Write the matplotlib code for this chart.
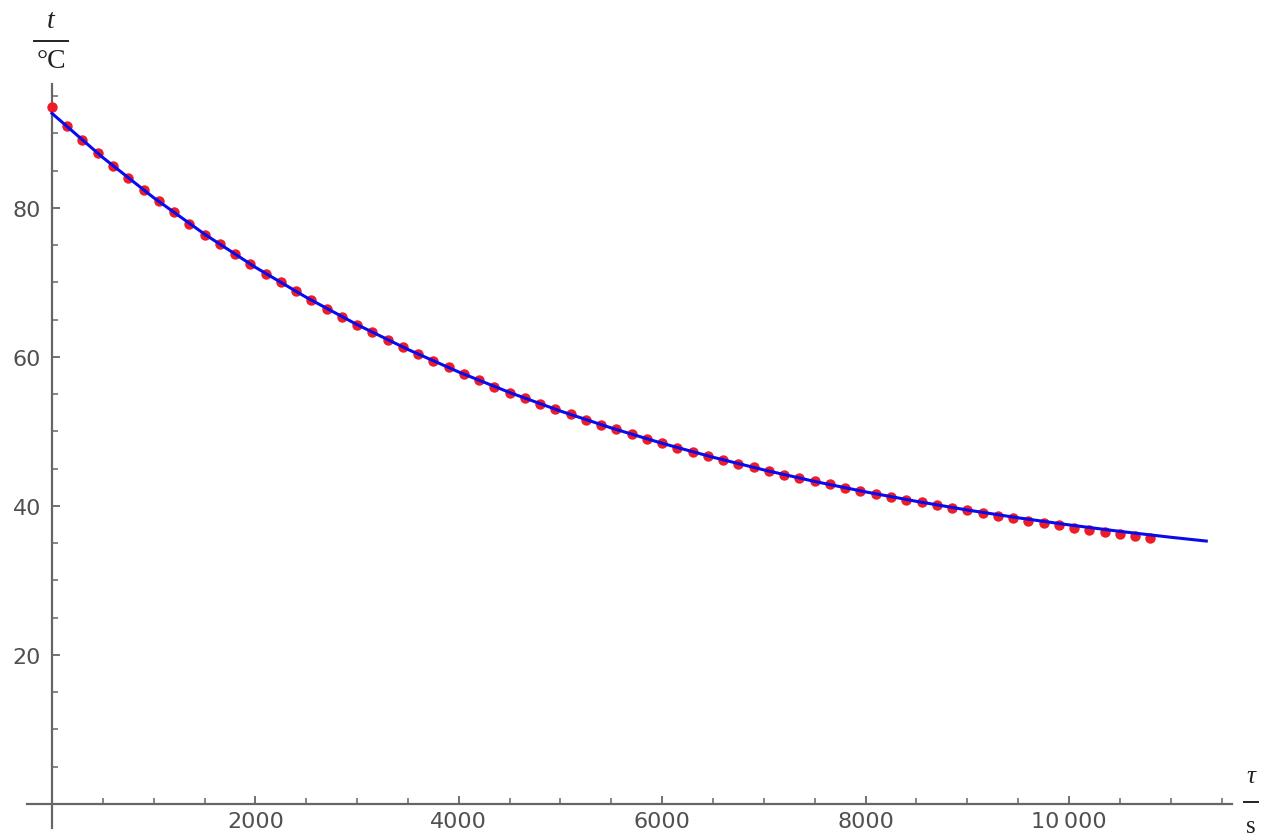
import matplotlib.pyplot as plt
from matplotlib.ticker import FixedLocator, FuncFormatter
from matplotlib.lines import Line2D

# measured points, every 150 s
tau = [150 * i for i in range(73)]
temp = [93.5, 91.0, 89.1, 87.4, 85.6, 84.0, 82.4, 80.9, 79.4, 77.9,
        76.4, 75.1, 73.8, 72.5, 71.2, 70.0, 68.8, 67.6, 66.5, 65.4,
        64.3, 63.3, 62.3, 61.3, 60.4, 59.5, 58.6, 57.7, 56.9, 56.0,
        55.2, 54.5, 53.7, 53.0, 52.3, 51.6, 50.9, 50.3, 49.6, 49.0,
        48.4, 47.8, 47.3, 46.7, 46.2, 45.7, 45.2, 44.7, 44.2, 43.8,
        43.3, 42.9, 42.4, 42.0, 41.6, 41.2, 40.8, 40.5, 40.1, 39.7,
        39.4, 39.0, 38.7, 38.4, 38.0, 37.7, 37.4, 37.1, 36.8, 36.5,
        36.3, 36.0, 35.7]

# fitted curve
fit_tau = [0, 500, 1000, 1500, 2000, 2500, 3000, 3500, 4000, 4500, 5000,
           5500, 6000, 6500, 7000, 7500, 8000, 8500, 9000, 9500, 10000,
           10500, 11000, 11350]
fit_temp = [92.70, 86.77, 81.38, 76.49, 72.04, 68.01, 64.34, 61.01, 57.98,
            55.23, 52.74, 50.47, 48.41, 46.54, 44.84, 43.29, 41.89, 40.62,
            39.46, 38.41, 37.46, 36.59, 35.80, 35.29]

W, H = 1261, 837
fig = plt.figure(figsize=(W / 100, H / 100), dpi=100)
ax = fig.add_axes([0, 0, 1, 1])
ax.patch.set_alpha(0)

ax.plot(tau, temp, 'o', color='#ee1c24', markersize=7.5, markeredgewidth=0, zorder=3)
ax.plot(fit_tau, fit_temp, color='#0a0aee', lw=2.2, zorder=4)

ax.set_xlim(-511, 11888)
ax.set_ylim(-4.3, 108.05)

axis_col = '#666666'
for s in ['top', 'right']:
    ax.spines[s].set_visible(False)
ax.spines['left'].set_position(('data', 0))
ax.spines['bottom'].set_position(('data', 0))
ax.spines['left'].set_bounds(-3.2, 96.6)
ax.spines['bottom'].set_bounds(-246, 11603)
for s in ['left', 'bottom']:
    ax.spines[s].set_color(axis_col)
    ax.spines[s].set_linewidth(1.6)

ax.xaxis.set_major_locator(FixedLocator([2000, 4000, 6000, 8000, 10000]))
ax.xaxis.set_minor_locator(FixedLocator([v for v in range(500, 11600, 500) if v % 2000]))
ax.yaxis.set_major_locator(FixedLocator([20, 40, 60, 80]))
ax.yaxis.set_minor_locator(FixedLocator([v for v in range(5, 96, 5) if v % 20]))

def xfmt(v, pos):
    s = '%d' % v
    if v >= 10000:
        s = s[:-3] + '\u2009' + s[-3:]
    return s

ax.xaxis.set_major_formatter(FuncFormatter(xfmt))
ax.yaxis.set_major_formatter(FuncFormatter(lambda v, pos: '%d' % v))

ax.tick_params(which='both', direction='in', color=axis_col, labelcolor='#505050',
               labelsize=16)
ax.tick_params(which='major', length=6, width=1.3)
ax.tick_params(which='minor', length=4, width=1.1)
ax.tick_params(axis='x', pad=5)
ax.tick_params(axis='y', pad=8)

# axis labels drawn as stacked fractions
def frac(top, bottom, xc, ytop, ybar, ybot, half, size):
    fig.text(xc / W, 1 - ytop / H, top, ha='center', va='center', fontsize=size,
             family='Liberation Serif', style='italic', color='#222222')
    fig.text(xc / W, 1 - ybot / H, bottom, ha='center', va='center', fontsize=size,
             family='Liberation Serif', color='#222222')
    fig.add_artist(Line2D([(xc - half) / W, (xc + half) / W], [1 - ybar / H] * 2,
                          color='#222222', lw=1.4))

frac('t', '°C', 51, 22, 42, 62, 17, 20)
frac('τ', 's', 1251, 777, 803, 827, 7, 18)

fig.savefig('out.png', dpi=100)
